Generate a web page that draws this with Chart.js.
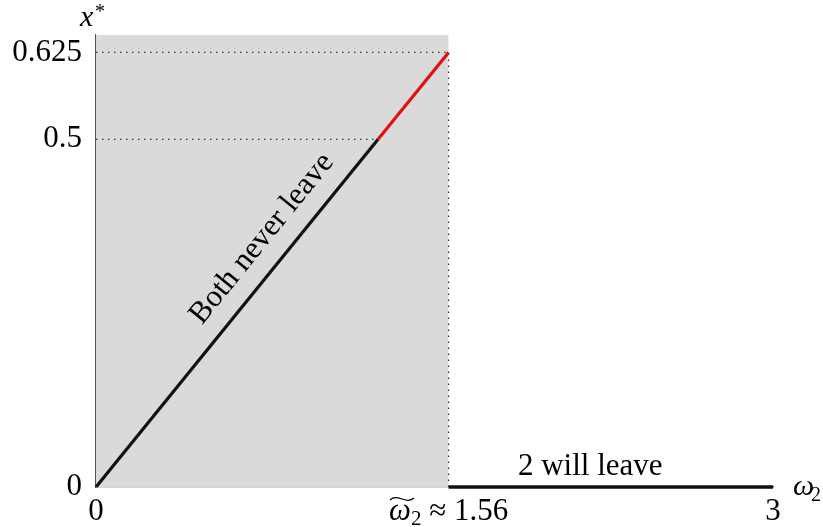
<!DOCTYPE html>
<html>
<head>
<meta charset="utf-8">
<script src="https://cdn.jsdelivr.net/npm/chart.js@4/dist/chart.umd.min.js"></script>
<style>
  html, body { margin: 0; padding: 0; background: #fff; }
  #wrap { width: 823px; height: 527px; }
</style>
</head>
<body>
<div id="wrap"><canvas id="chart-xstar"></canvas></div>
<script>
// data
const bothX = [0, 1.25];          // black rising part
const bothY = [0, 0.5];
const redX = [1.25, 1.5625];      // red rising part
const redY = [0.5, 0.625];
const leaveX = [1.5625, 3];       // flat part, x* = 0
const leaveY = [0, 0];
const regionX = [0, 1.5625];      // grey region
const regionTop = 0.65;
const xTicks = [0, 1.5625, 3];
const xTickLabels = ["0", "≈ 1.56", "3"];   // middle one gets the omega drawn in front
const yTicks = [0, 0.5, 0.625];
const yTickLabels = ["0", "0.5", "0.625"];

const serif = "'Liberation Serif', 'DejaVu Serif', serif";

function pts(xs, ys) {
    return xs.map(function (x, i) { return { x: x, y: ys[i] }; });
}

var dotted = {
    borderColor: "#333",
    borderWidth: 1.2,
    borderDash: [1.5, 4.5],
    pointRadius: 0,
    fill: false
};

// texts on the plot
const labelsPlugin = {
    id: "labelsPlugin",
    afterDraw: function (chart) {
        const c = chart.ctx;
        const xs = chart.scales.x, ys = chart.scales.y;
        c.save();
        c.fillStyle = "#000";
        // Both never leave, along the line
        const ang = Math.atan2(ys.getPixelForValue(0.5) - ys.getPixelForValue(0),
            xs.getPixelForValue(1.25) - xs.getPixelForValue(0));
        c.translate(xs.getPixelForValue(0.735), ys.getPixelForValue(0.357));
        c.rotate(ang);
        c.font = "31px " + serif;
        c.textAlign = "center";
        c.textBaseline = "middle";
        c.fillText("Both never leave", 0, 0);
        c.restore();

        c.save();
        c.fillStyle = "#000";
        c.strokeStyle = "#000";
        c.font = "31px " + serif;
        c.textAlign = "center";
        c.textBaseline = "middle";
        c.fillText("2 will leave", xs.getPixelForValue(2.19), ys.getPixelForValue(0.029));

        // omega tilde sub 2 in front of the middle x tick
        c.font = "31px " + serif;
        const rest = " " + xTickLabels[1];
        const wRest = c.measureText(rest).width;
        c.font = "italic 31px " + serif;
        const wOm = c.measureText("ω").width;
        c.font = "21px " + serif;
        const wSub = c.measureText("2").width;
        const total = wOm + wSub + wRest;
        let x0 = xs.getPixelForValue(xTicks[1]) - total / 2;
        const base = 520;
        c.textAlign = "left";
        c.textBaseline = "alphabetic";
        c.font = "italic 31px " + serif;
        c.fillText("ω", x0, base);
        // wide tilde
        c.lineWidth = 1.3;
        c.beginPath();
        const tx = x0 + 1, tw = wOm + 2, ty = base - 22;
        c.moveTo(tx, ty + 2);
        c.bezierCurveTo(tx + tw * 0.3, ty - 5, tx + tw * 0.7, ty + 7, tx + tw, ty);
        c.stroke();
        c.font = "21px " + serif;
        c.fillText("2", x0 + wOm, base + 5);
        c.font = "31px " + serif;
        c.fillText(rest, x0 + wOm + wSub, base);

        // axis titles
        c.font = "italic 30px " + serif;
        c.fillText("x", 80, 26);
        c.font = "20px " + serif;
        c.fillText("*", 95, 18);
        c.font = "italic 30px " + serif;
        c.fillText("ω", 793, 495);
        c.font = "20px " + serif;
        c.fillText("2", 811, 501);
        c.restore();
    }
};

var ctx = document.getElementById("chart-xstar").getContext("2d");
new Chart(ctx, {
    type: "line",
    data: {
        datasets: [{
            label: "region",
            data: pts(regionX, [regionTop, regionTop]),
            borderWidth: 0,
            borderColor: "rgba(0,0,0,0)",
            backgroundColor: "#dadada",
            pointRadius: 0,
            fill: "origin",
            order: 10
        }, Object.assign({
            label: "h0625",
            data: pts([0, 1.5625], [0.625, 0.625]),
            order: 5
        }, dotted), Object.assign({
            label: "h05",
            data: pts([0, 1.25], [0.5, 0.5]),
            order: 5
        }, dotted), Object.assign({
            label: "v156",
            data: pts([1.5625, 1.5625], [0, 0.625]),
            order: 5
        }, dotted), {
            label: "both",
            data: pts(bothX, bothY),
            borderColor: "#111",
            borderWidth: 3.2,
            pointRadius: 0,
            fill: false,
            clip: false,
            order: 1
        }, {
            label: "red",
            data: pts(redX, redY),
            borderColor: "#e01010",
            borderWidth: 3.2,
            pointRadius: 0,
            fill: false,
            clip: false,
            order: 1
        }, {
            label: "leave",
            data: pts(leaveX, leaveY),
            borderColor: "#111",
            borderWidth: 3.4,
            pointRadius: 0,
            fill: false,
            clip: false,
            order: 1
        }]
    },
    options: {
        responsive: true,
        maintainAspectRatio: false,
        animation: false,
        layout: { padding: { left: 0, right: 50, top: 35, bottom: 0 } },
        plugins: {
            legend: { display: false },
            tooltip: { enabled: false }
        },
        scales: {
            x: {
                type: "linear",
                min: 0,
                max: 3,
                grid: { display: false, drawTicks: false },
                border: { display: true, color: "#555", width: 1.2 },
                afterBuildTicks: function (scale) {
                    scale.ticks = xTicks.map(function (v) { return { value: v }; });
                },
                afterFit: function (scale) { scale.height = 40; },
                ticks: {
                    autoSkip: false,
                    maxRotation: 0,
                    padding: 6,
                    color: "#000",
                    font: { size: 31, family: serif },
                    callback: function (v) {
                        var i = xTicks.indexOf(v);
                        if (i === 1) return "";   // drawn by the plugin
                        return i >= 0 ? xTickLabels[i] : "";
                    }
                }
            },
            y: {
                type: "linear",
                min: 0,
                max: regionTop,
                grid: { display: false, drawTicks: false },
                border: { display: true, color: "#555", width: 1.2 },
                afterBuildTicks: function (scale) {
                    scale.ticks = yTicks.map(function (v) { return { value: v }; });
                },
                afterFit: function (scale) { scale.width = 96; },
                ticks: {
                    autoSkip: false,
                    padding: 14,
                    color: "#000",
                    font: { size: 31, family: serif },
                    callback: function (v) {
                        var i = yTicks.indexOf(v);
                        return i >= 0 ? yTickLabels[i] : "";
                    }
                }
            }
        }
    },
    plugins: [labelsPlugin]
});
</script>
</body>
</html>
